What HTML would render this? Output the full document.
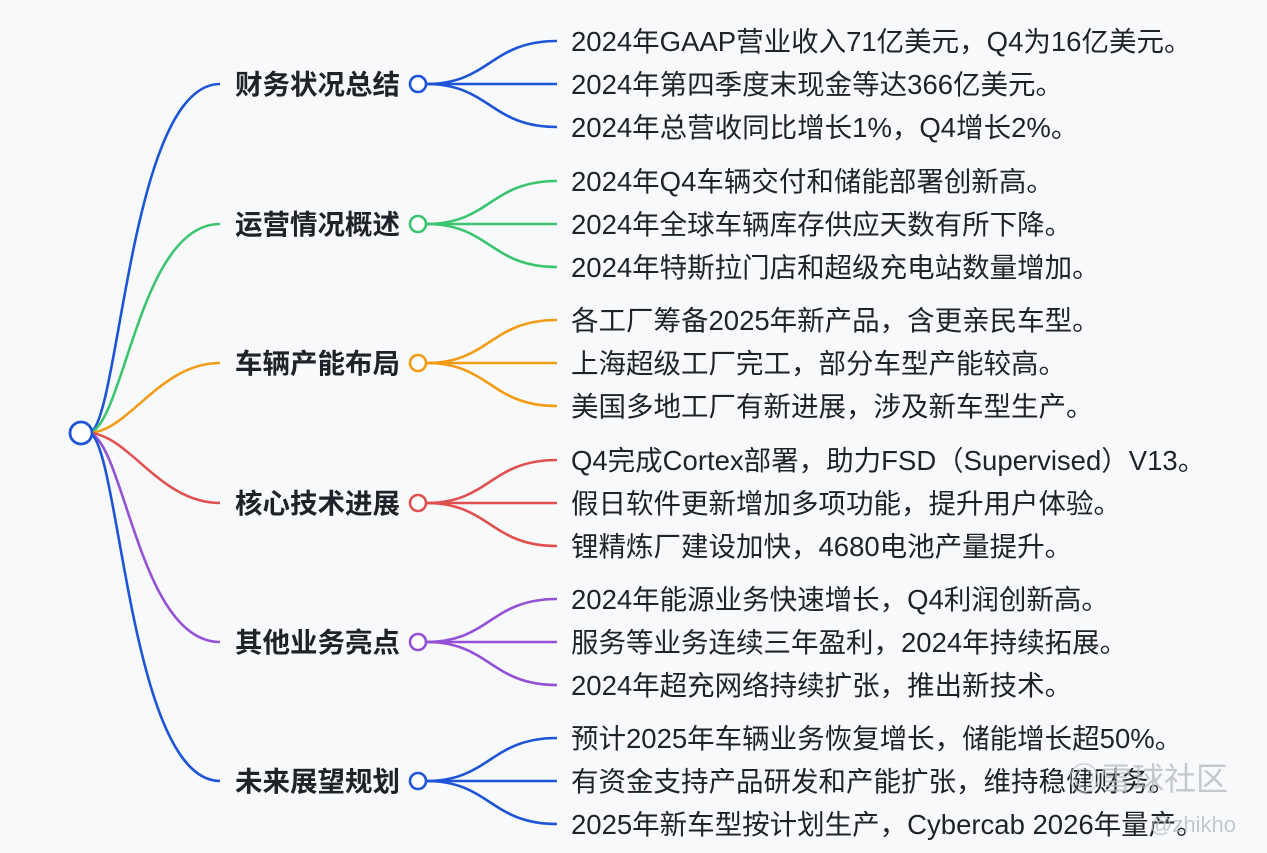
<!DOCTYPE html>
<html><head><meta charset="utf-8"><style>
html,body{margin:0;padding:0;background:#f8f9fb;}
svg{display:block}
.b{font-family:"Liberation Sans","Noto Sans CJK SC",sans-serif;font-weight:bold;font-size:27.5px;fill:#1f2329}
.l{font-family:"Liberation Sans","Noto Sans CJK SC",sans-serif;font-size:27.5px;fill:#1f2329}
.w{font-family:"Liberation Sans","Noto Sans CJK SC",sans-serif;fill:#b8bcc2;opacity:.8}
</style></head><body>
<svg width="1267" height="853" viewBox="0 0 1267 853" xmlns="http://www.w3.org/2000/svg">
<rect width="1267" height="853" fill="#f8f9fb"/>
<g fill="none" stroke-width="2.6">
<path d="M90 433 C120 420,130 84,220 84" stroke="#1d55d6"/>
<path d="M90 433 C125 420,140 224,220 224" stroke="#3cc46e"/>
<path d="M90 433 C130 430,160 363,220 363" stroke="#f29b14"/>
<path d="M90 433 C130 436,160 503,220 503" stroke="#e0504f"/>
<path d="M90 433 C125 446,140 642,220 642" stroke="#9451d6"/>
<path d="M90 433 C120 446,130 781,220 781" stroke="#1d55d6"/>
</g>
<circle cx="81" cy="433" r="11" fill="#fff" stroke="#1d55d6" stroke-width="2.8"/>
<text class="b" x="235" y="94">财务状况总结</text>
<text class="b" x="235" y="234">运营情况概述</text>
<text class="b" x="235" y="373">车辆产能布局</text>
<text class="b" x="235" y="513">核心技术进展</text>
<text class="b" x="235" y="652">其他业务亮点</text>
<text class="b" x="235" y="791">未来展望规划</text>
<g fill="none" stroke-width="2.6">
<g stroke="#1d55d6"><path d="M426 84 C490 84,490 41,557 41"/><path d="M426 84 H557"/><path d="M426 84 C490 84,490 127,557 127"/></g>
<g stroke="#3cc46e"><path d="M426 224 C490 224,490 181,557 181"/><path d="M426 224 H557"/><path d="M426 224 C490 224,490 267,557 267"/></g>
<g stroke="#f29b14"><path d="M426 363 C490 363,490 320,557 320"/><path d="M426 363 H557"/><path d="M426 363 C490 363,490 406,557 406"/></g>
<g stroke="#e0504f"><path d="M426 503 C490 503,490 460,557 460"/><path d="M426 503 H557"/><path d="M426 503 C490 503,490 546,557 546"/></g>
<g stroke="#9451d6"><path d="M426 642 C490 642,490 599,557 599"/><path d="M426 642 H557"/><path d="M426 642 C490 642,490 685,557 685"/></g>
<g stroke="#1d55d6"><path d="M426 781 C490 781,490 738,557 738"/><path d="M426 781 H557"/><path d="M426 781 C490 781,490 824,557 824"/></g>
</g>
<g fill="#fff" stroke-width="2.6">
<circle cx="418" cy="84" r="8" stroke="#1d55d6"/>
<circle cx="418" cy="224" r="8" stroke="#3cc46e"/>
<circle cx="418" cy="363" r="8" stroke="#f29b14"/>
<circle cx="418" cy="503" r="8" stroke="#e0504f"/>
<circle cx="418" cy="642" r="8" stroke="#9451d6"/>
<circle cx="418" cy="781" r="8" stroke="#1d55d6"/>
</g>
<g>
<text class="l" x="571" y="51">2024年GAAP营业收入71亿美元，Q4为16亿美元。</text>
<text class="l" x="571" y="94">2024年第四季度末现金等达366亿美元。</text>
<text class="l" x="571" y="137">2024年总营收同比增长1%，Q4增长2%。</text>
<text class="l" x="571" y="191">2024年Q4车辆交付和储能部署创新高。</text>
<text class="l" x="571" y="234">2024年全球车辆库存供应天数有所下降。</text>
<text class="l" x="571" y="277">2024年特斯拉门店和超级充电站数量增加。</text>
<text class="l" x="571" y="330">各工厂筹备2025年新产品，含更亲民车型。</text>
<text class="l" x="571" y="373">上海超级工厂完工，部分车型产能较高。</text>
<text class="l" x="571" y="416">美国多地工厂有新进展，涉及新车型生产。</text>
<text class="l" x="571" y="470">Q4完成Cortex部署，助力FSD（Supervised）V13。</text>
<text class="l" x="571" y="513">假日软件更新增加多项功能，提升用户体验。</text>
<text class="l" x="571" y="556">锂精炼厂建设加快，4680电池产量提升。</text>
<text class="l" x="571" y="609">2024年能源业务快速增长，Q4利润创新高。</text>
<text class="l" x="571" y="652">服务等业务连续三年盈利，2024年持续拓展。</text>
<text class="l" x="571" y="695">2024年超充网络持续扩张，推出新技术。</text>
<text class="l" x="571" y="748">预计2025年车辆业务恢复增长，储能增长超50%。</text>
<text class="l" x="571" y="791">有资金支持产品研发和产能扩张，维持稳健财务。</text>
<text class="l" x="571" y="834">2025年新车型按计划生产，Cybercab 2026年量产。</text>
</g>
<text class="w" x="1068" y="790" font-size="32">◎雪球社区</text>
<text class="w" x="1150" y="832" font-size="22">@zhikho</text>
</svg>
</body></html>
